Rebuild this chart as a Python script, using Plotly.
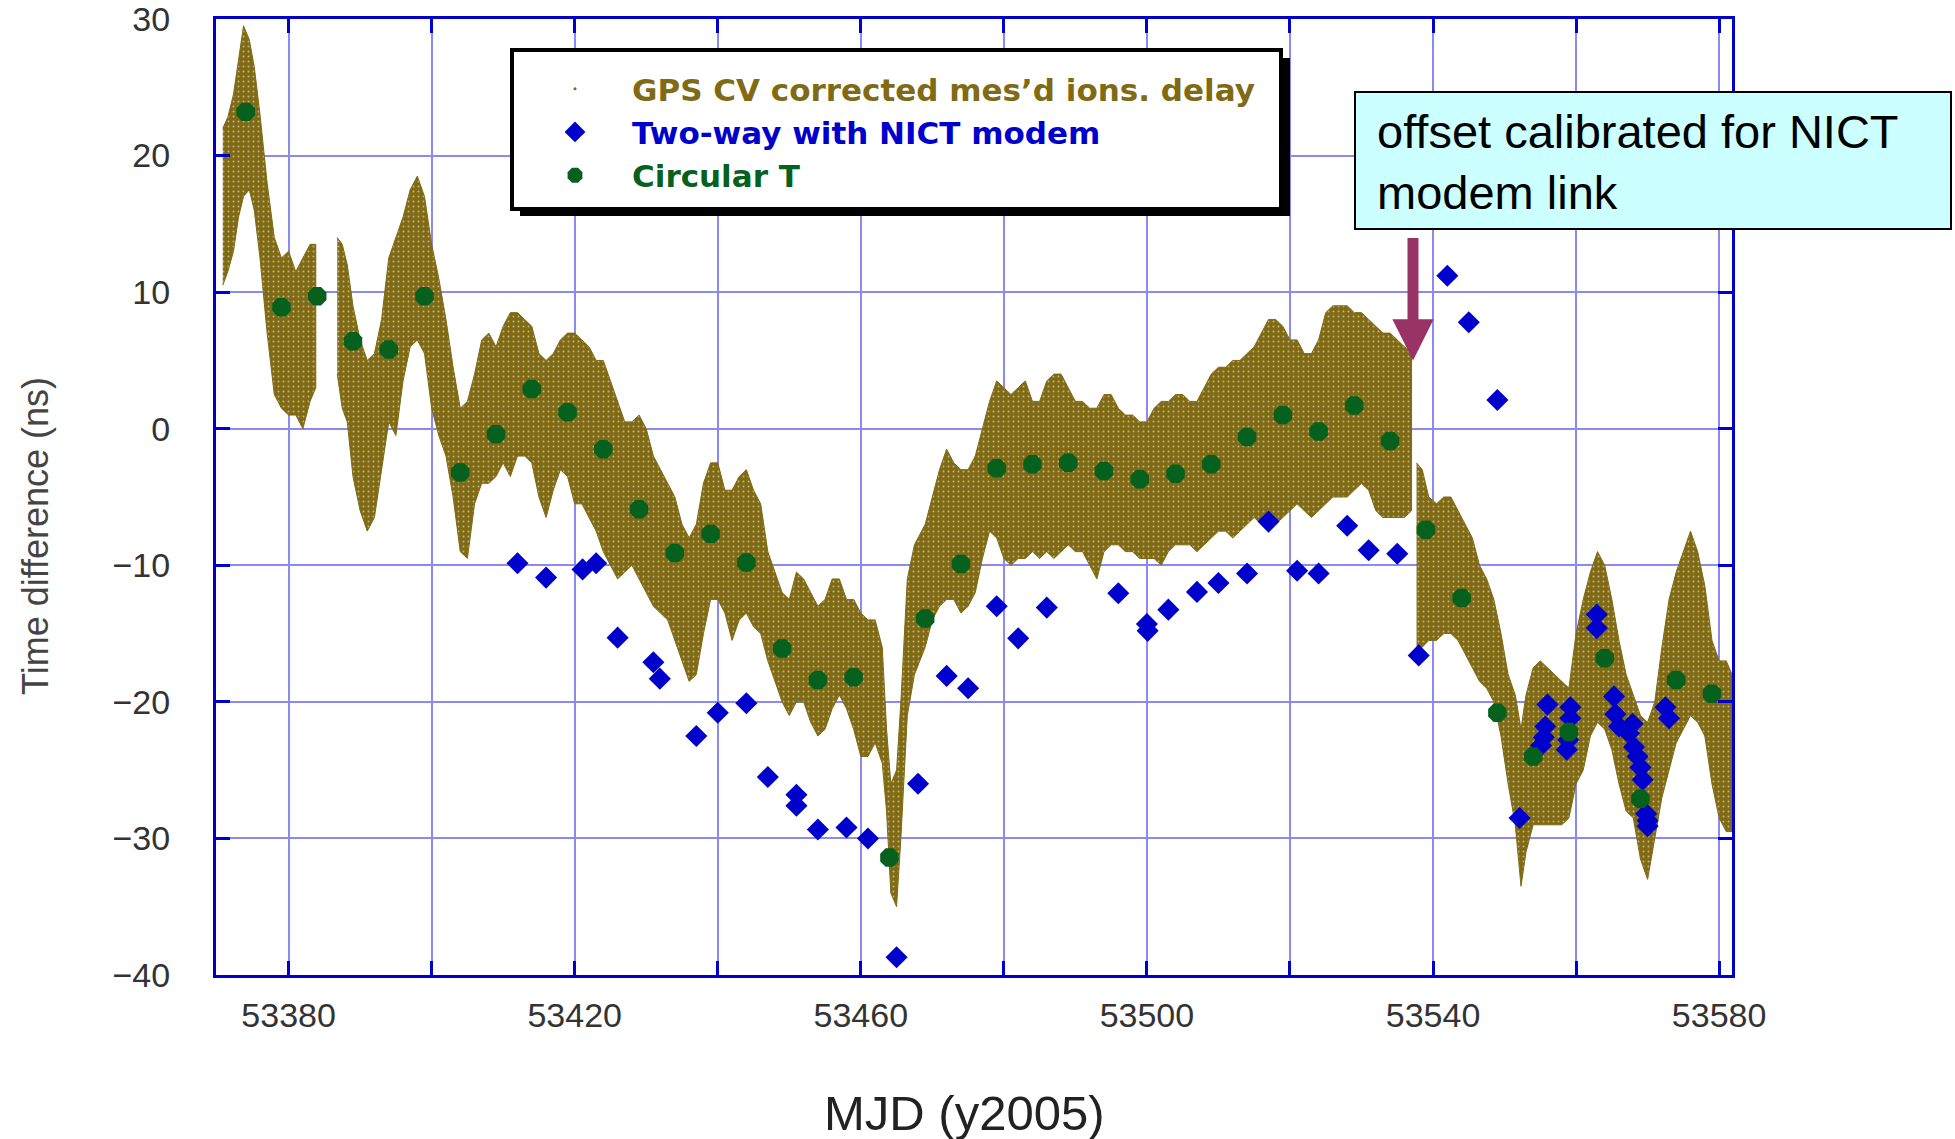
import plotly.graph_objects as go

# ---------------- data ----------------
# Circular T (every 5 days)
circt_mjd = [53374, 53379, 53384, 53389, 53394, 53399, 53404, 53409, 53414, 53419,
             53424, 53429, 53434, 53439, 53444, 53449, 53454, 53459, 53464, 53469,
             53474, 53479, 53484, 53489, 53494, 53499, 53504, 53509, 53514, 53519,
             53524, 53529, 53534, 53539, 53544, 53549, 53554, 53559, 53564, 53569,
             53574, 53579]
circt_val = [23.2, 8.9, 9.7, 6.4, 5.8, 9.7, -3.2, -0.4, 2.9, 1.2,
             -1.5, -5.9, -9.1, -7.7, -9.8, -16.1, -18.4, -18.2, -31.4, -13.9,
             -9.9, -2.9, -2.6, -2.5, -3.1, -3.7, -3.3, -2.6, -0.6, 1.0,
             -0.2, 1.7, -0.9, -7.4, -12.4, -20.8, -24.0, -22.2, -16.8, -27.1,
             -18.4, -19.4]

# Two-way with NICT modem
tw_mjd = [53412.0, 53416.0, 53421.1, 53423.0, 53426.0, 53431.0, 53431.9, 53437.0,
          53440.0, 53444.0, 53447.0, 53451.0, 53451.0, 53454.0, 53458.0, 53461.0,
          53465.0, 53468.0, 53472.0, 53475.0, 53479.0, 53482.0, 53486.0, 53496.0,
          53500.0, 53500.1, 53503.0, 53507.0, 53510.0, 53514.0, 53517.0, 53521.0,
          53524.0, 53528.0, 53531.0, 53535.0, 53538.0, 53542.0, 53545.0, 53549.0,
          53552.1, 53555.1, 53555.5, 53555.7, 53556.0, 53558.7, 53558.9, 53559.2,
          53559.2, 53562.9, 53562.9, 53565.3, 53565.5, 53566.0, 53567.4, 53567.9,
          53568.1, 53568.6, 53569.0, 53569.3, 53569.8, 53570.0, 53570.0, 53572.5,
          53573.0]
tw_val = [-9.85, -10.9, -10.3, -9.85, -15.3, -17.1, -18.3, -22.5,
          -20.8, -20.1, -25.5, -26.8, -27.6, -29.35, -29.2, -30.0,
          -38.7, -26.0, -18.1, -19.0, -13.0, -15.35, -13.1, -12.05,
          -14.3, -14.8, -13.25, -11.95, -11.3, -10.6, -6.8, -10.4,
          -10.6, -7.1, -8.9, -9.15, -16.6, 11.2, 7.8, 2.1,
          -28.5, -23.2, -22.6, -21.8, -20.2, -23.5, -22.8, -21.2,
          -20.4, -13.6, -14.6, -19.6, -20.9, -21.8, -22.3, -21.6,
          -23.3, -24.0, -24.8, -25.7, -28.2, -28.7, -29.1, -20.4,
          -21.2]

# GPS CV (measured ionospheric delay): envelope of the dense point cloud, three runs
gps1_mjd = [53370.8, 53371.5, 53372.3, 53373.0, 53373.7, 53374.5, 53375.2, 53376.0,
            53377.0, 53378.0, 53379.0, 53380.0, 53381.0, 53382.0, 53383.0, 53383.8]
gps1_hi = [22.0, 22.8, 24.5, 27.0, 29.5, 28.5, 26.5, 23.0,
           18.0, 14.0, 12.5, 13.0, 11.5, 12.5, 13.5, 13.5]
gps1_lo = [10.5, 11.5, 13.0, 15.5, 17.0, 17.5, 16.0, 12.5,
           7.0, 2.5, 1.5, 1.0, 1.0, 0.0, 2.0, 3.0]

gps2_mjd = [53386.8, 53387.5, 53388.2, 53389.0, 53390.0, 53391.0, 53392.0, 53393.0,
            53394.0, 53395.0, 53396.0, 53397.0, 53398.0, 53399.0, 53400.0, 53401.0,
            53402.0, 53403.0, 53404.0, 53405.0, 53406.0, 53407.0, 53408.0, 53409.0,
            53410.0, 53411.0, 53412.0, 53413.0, 53414.0, 53415.0, 53416.0, 53417.0,
            53418.0, 53419.0, 53420.0, 53421.0, 53422.0, 53423.0, 53424.0, 53425.0,
            53426.0, 53427.0, 53428.0, 53429.0, 53430.0, 53431.0, 53432.0, 53433.0,
            53434.0, 53435.0, 53436.0, 53437.0, 53438.0, 53439.0, 53440.0, 53441.0,
            53442.0, 53443.0, 53444.0, 53445.0, 53446.0, 53447.0, 53448.0, 53449.0,
            53450.0, 53451.0, 53452.0, 53453.0, 53454.0, 53455.0, 53456.0, 53457.0,
            53458.0, 53459.0, 53460.0, 53461.0, 53462.0, 53463.0, 53463.6, 53464.2,
            53465.0, 53465.6, 53466.5, 53467.5, 53469.0, 53470.0, 53471.0, 53472.0,
            53473.0, 53474.0, 53475.0, 53476.0, 53477.0, 53478.0, 53479.0, 53480.0,
            53481.0, 53482.0, 53483.0, 53484.0, 53485.0, 53486.0, 53487.0, 53488.0,
            53489.0, 53490.0, 53491.0, 53492.0, 53493.0, 53494.0, 53495.0, 53496.0,
            53497.0, 53498.0, 53499.0, 53500.0, 53501.0, 53502.0, 53503.0, 53504.0,
            53505.0, 53506.0, 53507.0, 53508.0, 53509.0, 53510.0, 53511.0, 53512.0,
            53513.0, 53514.0, 53515.0, 53516.0, 53517.0, 53518.0, 53519.0, 53520.0,
            53521.0, 53522.0, 53523.0, 53524.0, 53525.0, 53526.0, 53527.0, 53528.0,
            53529.0, 53530.0, 53531.0, 53532.0, 53533.0, 53534.0, 53535.0, 53536.0,
            53537.0]
gps2_hi = [14.0, 13.5, 12.0, 9.0, 6.5, 5.0, 5.5, 8.0,
           12.5, 14.0, 15.5, 17.5, 18.5, 17.0, 13.5, 11.0,
           8.0, 4.5, 1.5, 2.0, 4.0, 6.5, 7.0, 6.0,
           7.5, 8.5, 8.5, 8.0, 7.5, 5.5, 5.0, 5.5,
           6.5, 7.0, 7.0, 6.5, 6.0, 5.0, 5.0, 3.5,
           2.0, 0.5, 0.5, 1.0, 0.0, -2.0, -3.0, -4.0,
           -5.0, -7.0, -8.0, -7.0, -4.0, -2.5, -2.5, -4.5,
           -4.5, -3.5, -3.0, -4.5, -5.5, -9.0, -10.5, -12.0,
           -12.5, -10.5, -11.0, -12.0, -13.0, -12.5, -11.0, -11.0,
           -12.5, -12.5, -13.5, -14.0, -14.0, -16.0, -22.0, -26.0,
           -25.0, -20.0, -11.0, -8.5, -7.0, -5.0, -3.0, -1.5,
           -2.5, -3.0, -3.0, -2.0, 0.0, 2.0, 3.5, 3.0,
           2.5, 3.0, 3.5, 2.0, 2.0, 3.5, 4.0, 4.0,
           3.0, 2.0, 2.0, 1.5, 1.5, 2.5, 2.5, 1.5,
           1.0, 1.0, 0.5, 0.5, 1.5, 2.0, 2.0, 2.5,
           2.5, 2.0, 2.0, 3.0, 4.0, 4.5, 4.5, 5.0,
           5.0, 5.5, 6.0, 7.0, 8.0, 8.0, 7.5, 6.5,
           6.5, 5.5, 5.5, 6.5, 8.5, 9.0, 9.0, 9.0,
           8.5, 8.5, 8.0, 7.5, 7.0, 7.0, 6.5, 6.0,
           5.5]
gps2_lo = [4.0, 1.5, 0.5, -3.5, -6.0, -7.5, -6.5, -3.0,
           0.5, -0.5, 3.5, 6.0, 6.5, 5.5, 1.5, -0.5,
           -2.0, -5.0, -9.0, -9.5, -5.5, -4.0, -4.0, -3.5,
           -2.5, -3.5, -2.0, -2.0, -2.5, -5.0, -6.5, -4.5,
           -3.0, -3.5, -5.5, -5.5, -6.5, -7.5, -9.0, -10.0,
           -11.0, -10.5, -10.0, -11.0, -12.0, -13.0, -13.5, -14.0,
           -15.5, -17.0, -18.5, -18.0, -15.0, -12.5, -12.5, -13.5,
           -15.5, -14.0, -13.5, -14.5, -15.0, -17.0, -18.5, -20.0,
           -21.0, -20.0, -20.0, -21.5, -22.5, -22.0, -20.5, -19.5,
           -20.5, -22.0, -24.0, -24.0, -23.0, -24.5, -28.0, -34.0,
           -35.0, -30.0, -21.0, -18.0, -16.0, -14.0, -13.0, -12.5,
           -12.5, -13.5, -13.0, -12.0, -9.5, -7.5, -8.0, -9.5,
           -10.0, -9.5, -9.5, -9.0, -9.5, -9.0, -9.5, -9.0,
           -8.5, -9.0, -9.0, -10.0, -11.0, -9.0, -8.5, -8.5,
           -9.0, -9.0, -9.5, -9.5, -9.5, -10.0, -9.0, -8.5,
           -8.5, -8.5, -9.0, -8.5, -8.0, -7.5, -7.5, -8.0,
           -7.5, -7.0, -6.5, -7.0, -7.0, -7.0, -6.5, -6.0,
           -5.5, -6.0, -6.5, -6.0, -5.5, -5.0, -5.0, -5.0,
           -4.5, -4.0, -4.5, -6.0, -6.5, -6.5, -6.5, -6.5,
           -6.0]

gps3_mjd = [53537.7, 53538.5, 53539.4, 53540.5, 53541.5, 53542.5, 53543.5, 53544.5,
            53545.5, 53546.5, 53547.5, 53548.5, 53549.5, 53550.5, 53551.5, 53552.3,
            53553.0, 53554.0, 53555.0, 53556.0, 53557.0, 53558.0, 53559.0, 53560.0,
            53561.0, 53562.0, 53563.0, 53564.0, 53565.0, 53566.0, 53567.0, 53568.0,
            53569.0, 53570.0, 53571.0, 53572.0, 53573.0, 53574.0, 53575.0, 53576.0,
            53577.0, 53578.0, 53579.0, 53580.0, 53581.0, 53581.8]
gps3_hi = [-2.5, -3.0, -5.0, -5.5, -5.0, -5.0, -6.0, -7.0,
           -8.0, -10.0, -11.0, -12.5, -15.0, -18.0, -19.5, -22.0,
           -19.5, -17.5, -17.0, -17.5, -18.0, -18.5, -19.0, -15.0,
           -12.5, -10.5, -9.0, -10.0, -12.5, -15.5, -18.0, -19.5,
           -21.0, -21.5, -20.0, -16.0, -12.5, -10.5, -9.0, -7.5,
           -9.0, -11.5, -15.5, -17.0, -17.0, -18.0]
gps3_lo = [-16.0, -16.0, -15.5, -15.5, -15.0, -15.0, -15.5, -16.5,
           -17.5, -18.5, -19.0, -20.0, -22.5, -26.0, -29.0, -33.5,
           -31.0, -29.0, -29.0, -29.0, -29.0, -29.0, -28.5, -26.0,
           -25.0, -22.5, -21.5, -22.0, -23.5, -26.0, -28.0, -28.5,
           -31.5, -33.0, -30.0, -27.0, -25.0, -23.0, -22.0, -21.0,
           -21.5, -22.5, -26.0, -28.5, -29.5, -29.5]

x_tick_vals = [53380, 53400, 53420, 53440, 53460, 53480, 53500, 53520, 53540, 53560, 53580]
x_tick_text = ["53380", "", "53420", "", "53460", "", "53500", "", "53540", "", "53580"]
y_tick_vals = [-40, -30, -20, -10, 0, 10, 20, 30]

# ---------------- styling ----------------
OLIVE = "#806a14"
BLUE = "#0000cc"
GREEN = "#06601e"
GRID = "#8a8af2"
AXIS = "#0000cc"
FONT = "Liberation Sans, Arial, sans-serif"
LEGFONT = "DejaVu Sans, Verdana, sans-serif"

W, H = 1955, 1139
ML, MR, MT, MB = 216, 223, 19, 164
PW, PH = W - ML - MR, H - MT - MB


def px_x(p):
    return (p - ML) / PW


def px_y(p):
    return (H - MB - p) / PH


fig = go.Figure()

for mj, hi, lo in [(gps1_mjd, gps1_hi, gps1_lo),
                   (gps2_mjd, gps2_hi, gps2_lo),
                   (gps3_mjd, gps3_hi, gps3_lo)]:
    fig.add_trace(go.Scatter(
        x=list(mj) + list(mj)[::-1],
        y=list(hi) + list(lo)[::-1],
        mode="lines", fill="toself", fillcolor=OLIVE,
        fillpattern=dict(shape=".", bgcolor=OLIVE, fgcolor="white",
                         size=5, solidity=0.12),
        line=dict(color=OLIVE, width=1),
        showlegend=False, hoverinfo="skip"))

# legend entry for the GPS cloud
fig.add_trace(go.Scatter(
    x=[None], y=[None], mode="markers",
    marker=dict(color=OLIVE, size=3),
    name='<span style="color:%s">GPS CV corrected mes\u2019d ions. delay</span>' % OLIVE))

fig.add_trace(go.Scatter(
    x=tw_mjd, y=tw_val, mode="markers",
    marker=dict(symbol="diamond", color=BLUE, size=17, line=dict(width=0)),
    name='<span style="color:%s">Two-way with NICT modem</span>' % BLUE))

fig.add_trace(go.Scatter(
    x=circt_mjd, y=circt_val, mode="markers",
    marker=dict(symbol="octagon", color=GREEN, size=20, line=dict(width=0)),
    name='<span style="color:%s">Circular T</span>' % GREEN))

# legend box + shadow, callout box
shapes = [
    dict(type="rect", xref="paper", yref="paper", layer="above",
         x0=px_x(520), x1=px_x(1290), y0=px_y(216), y1=px_y(58),
         fillcolor="black", line=dict(width=0)),
    dict(type="rect", xref="paper", yref="paper", layer="above",
         x0=px_x(512), x1=px_x(1281), y0=px_y(209), y1=px_y(50),
         fillcolor="white", line=dict(color="black", width=4)),
    dict(type="rect", xref="paper", yref="paper", layer="above",
         x0=px_x(1355), x1=px_x(1951), y0=px_y(229), y1=px_y(92),
         fillcolor="#ccffff", line=dict(color="black", width=2)),
]

annotations = [
    dict(xref="paper", yref="paper", x=px_x(1375), y=px_y(162),
         xanchor="left", yanchor="middle", align="left", showarrow=False,
         text="offset calibrated for NICT<br>modem link",
         font=dict(family=FONT, size=47, color="black")),
    dict(xref="x", yref="y", x=53537.2, y=5.0, ax=0, ay=-124,
         showarrow=True, arrowhead=2, arrowsize=0.75, arrowwidth=11,
         arrowcolor="#993366", text=""),
    # axis titles
    dict(xref="paper", yref="paper", x=px_x(964), y=px_y(1113),
         xanchor="center", yanchor="middle", showarrow=False,
         text="MJD (y2005)", font=dict(family=FONT, size=49, color="#222222")),
    dict(xref="paper", yref="paper", x=px_x(35), y=px_y(536),
         xanchor="center", yanchor="middle", showarrow=False, textangle=-90,
         text="Time difference (ns)", font=dict(family=FONT, size=36, color="#444444")),
]

fig.update_layout(
    width=W, height=H,
    margin=dict(l=ML, r=MR, t=MT, b=MB, pad=0),
    paper_bgcolor="white", plot_bgcolor="white",
    font=dict(family=FONT, color="#333333"),
    shapes=shapes, annotations=annotations,
    showlegend=True,
    legend=dict(x=px_x(518), y=px_y(62), xanchor="left", yanchor="top",
                bgcolor="rgba(0,0,0,0)", borderwidth=0,
                itemwidth=104, itemsizing="trace",
                font=dict(family=LEGFONT, size=31, weight="bold", color="black")),
    xaxis=dict(range=[53369.85, 53581.8], tickvals=x_tick_vals, ticktext=x_tick_text,
               automargin=False,
               showgrid=True, gridcolor=GRID, gridwidth=2,
               showline=True, linecolor=AXIS, linewidth=3, mirror="ticks",
               ticks="inside", ticklen=14, tickwidth=3, tickcolor=AXIS,
               ticklabelstandoff=8, ticklabeloverflow="allow", zeroline=False,
               tickfont=dict(family=FONT, size=34, color="#333333")),
    yaxis=dict(range=[-40, 30], tickvals=y_tick_vals,
               automargin=False,
               showgrid=True, gridcolor=GRID, gridwidth=2,
               showline=True, linecolor=AXIS, linewidth=3, mirror="ticks",
               ticks="inside", ticklen=14, tickwidth=3, tickcolor=AXIS,
               ticklabelstandoff=36, ticklabeloverflow="allow", zeroline=False,
               tickfont=dict(family=FONT, size=34, color="#333333")),
)

fig.write_html("out.html")
